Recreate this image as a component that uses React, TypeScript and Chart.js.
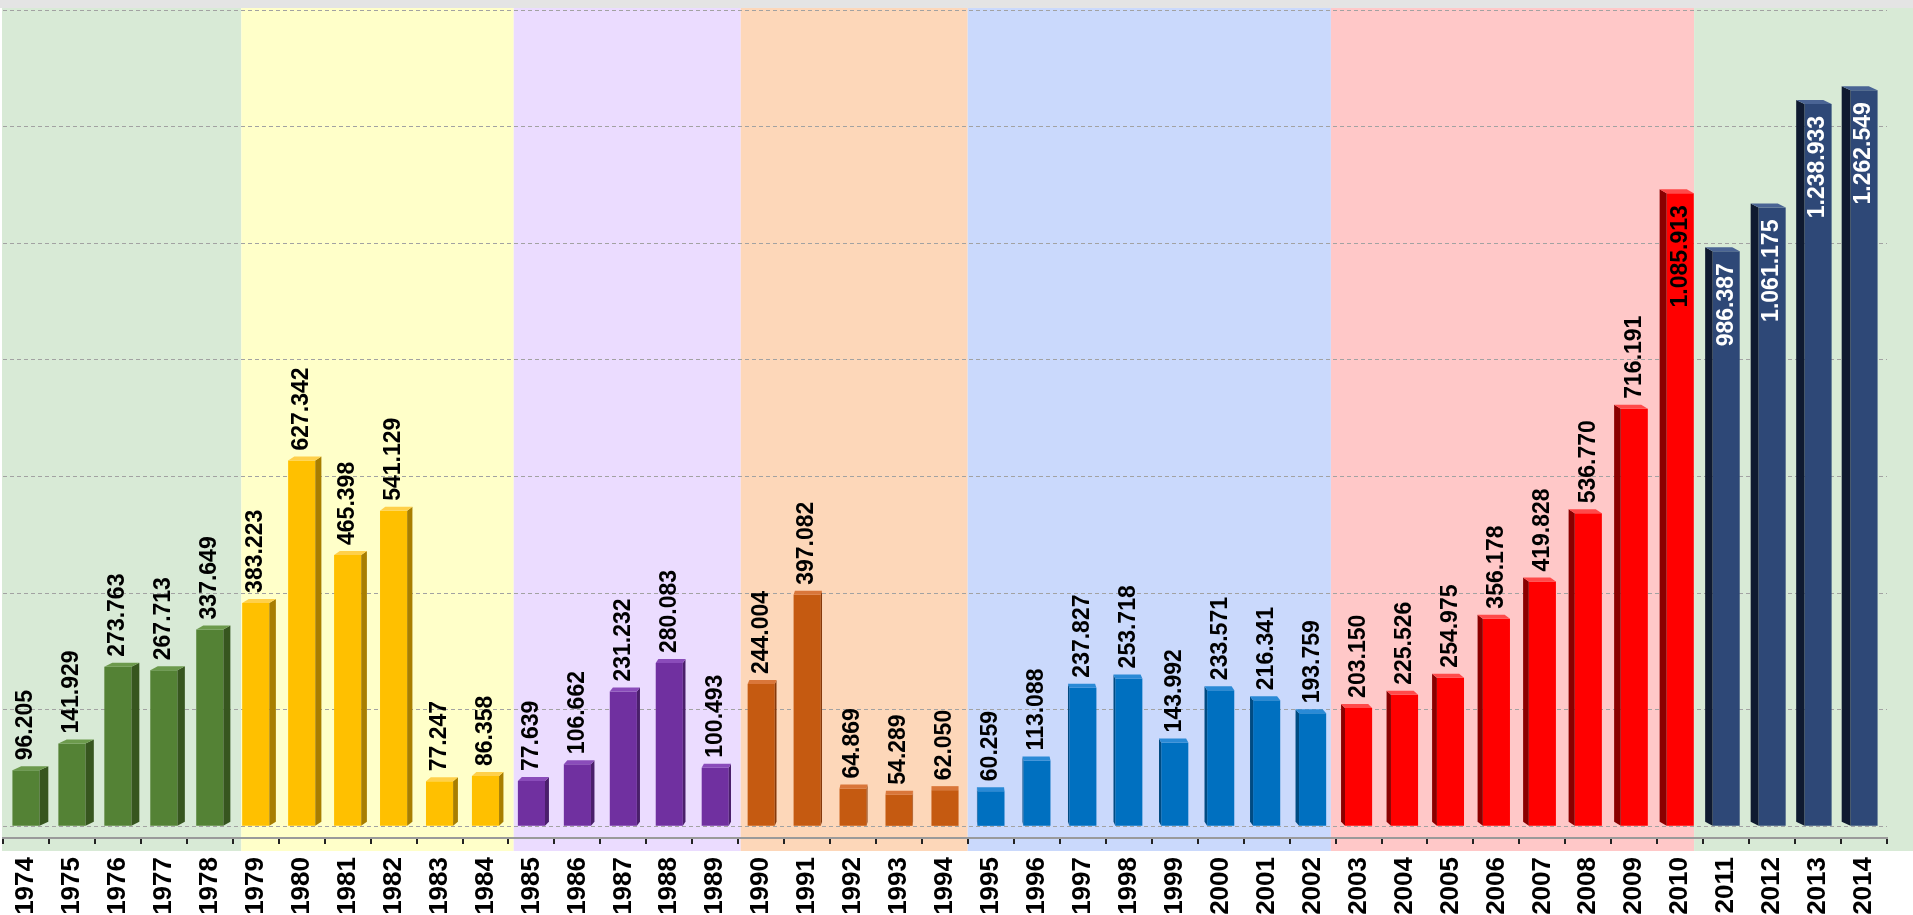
import { useEffect, useRef } from 'react';
import { Chart, registerables } from 'chart.js';

Chart.register(...registerables);

const years = [
  '1974', '1975', '1976', '1977', '1978', '1979', '1980', '1981', '1982', '1983', '1984',
  '1985', '1986', '1987', '1988', '1989', '1990', '1991', '1992', '1993', '1994',
  '1995', '1996', '1997', '1998', '1999', '2000', '2001', '2002',
  '2003', '2004', '2005', '2006', '2007', '2008', '2009', '2010',
  '2011', '2012', '2013', '2014',
];

const values = [
  96205, 141929, 273763, 267713, 337649, 383223, 627342, 465398, 541129, 77247, 86358,
  77639, 106662, 231232, 280083, 100493, 244004, 397082, 64869, 54289, 62050,
  60259, 113088, 237827, 253718, 143992, 233571, 216341, 193759,
  203150, 225526, 254975, 356178, 419828, 536770, 716191, 1085913,
  986387, 1061175, 1238933, 1262549,
];

const periodStarts = [1974, 1979, 1985, 1990, 1995, 2003, 2011];
const bandColors = ['#d8ead6', '#ffffc9', '#ebdcff', '#fdd7b9', '#cad9fc', '#ffc8c8', '#d8ead6'];
const barColors = ['#548235', '#ffc000', '#7030a0', '#c55a11', '#0070c0', '#ff0000', '#2e4877'];
const sideColors = ['#37561f', '#a87e00', '#4a1f6b', '#86390a', '#004b82', '#8a0000', '#0f1a30'];
const topColors = ['#6c9a4c', '#ffd04a', '#8a4cba', '#d9763a', '#2a8ad6', '#ff4a4a', '#4a6494'];
const insideTextColors = ['#000', '#000', '#000', '#000', '#000', '#000', '#ffffff'];

const yTicks = [0, 200000, 400000, 600000, 800000, 1000000, 1200000, 1400000];
const yMin = -20000;
const yMax = 1400000;
const insideLabelMin = 900000;
const perspective = 0.012;

const periodIndex = years.map((y) => {
  const yr = Number(y);
  let p = 0;
  periodStarts.forEach((s, i) => {
    if (yr >= s) p = i;
  });
  return p;
});

const fmt = (v: number) => String(v).replace(/\B(?=(\d{3})+(?!\d))/g, '.');

const FONT = '"Liberation Sans", Arial, sans-serif';

const bandsPlugin = {
  id: 'bands',
  beforeDraw(chart: any) {
    const { ctx, chartArea: ca } = chart;
    const xs = chart.scales.x;
    const cx = (ca.left + ca.right) / 2;
    const persp = (px: number) => px + perspective * (cx - px);
    ctx.save();
    ctx.fillStyle = '#ffffff';
    ctx.fillRect(0, 0, chart.width, chart.height);
    ctx.fillStyle = '#e4e4e4';
    ctx.fillRect(0, 0, chart.width, ca.top - 2);
    const top = ca.top - 2;
    const bottom = ca.bottom + 13;
    periodStarts.forEach((s, p) => {
      const first = periodIndex.indexOf(p);
      const last = periodIndex.lastIndexOf(p);
      const left =
        first === 0
          ? ca.left - 1
          : persp((xs.getPixelForValue(first - 1) + xs.getPixelForValue(first)) / 2);
      const right =
        last === years.length - 1
          ? chart.width
          : persp((xs.getPixelForValue(last) + xs.getPixelForValue(last + 1)) / 2);
      ctx.fillStyle = bandColors[p];
      ctx.fillRect(left, top, right - left, bottom - top);
    });
    ctx.restore();
  },
};

const barsPlugin = {
  id: 'bars3d',
  afterDatasetsDraw(chart: any) {
    const { ctx, chartArea: ca } = chart;
    const meta = chart.getDatasetMeta(0);
    const cx = (ca.left + ca.right) / 2;
    const half = (ca.right - ca.left) / 2;
    ctx.save();
    meta.data.forEach((bar: any, i: number) => {
      const { x, y, base, width } = bar.getProps(['x', 'y', 'base', 'width'], true);
      const p = periodIndex[i];
      const d = (x - cx) / half;
      const s = Math.abs(d) * 9;
      const t = 4;
      const xl = x - width / 2;
      const xr = x + width / 2;
      const dir = d < 0 ? 1 : -1;
      const edge = d < 0 ? xr : xl;
      // side face
      ctx.fillStyle = sideColors[p];
      ctx.beginPath();
      ctx.moveTo(edge, y);
      ctx.lineTo(edge + dir * s, y - t);
      ctx.lineTo(edge + dir * s, base - t);
      ctx.lineTo(edge, base);
      ctx.closePath();
      ctx.fill();
      // top face
      ctx.fillStyle = topColors[p];
      ctx.beginPath();
      ctx.moveTo(xl, y);
      ctx.lineTo(xr, y);
      ctx.lineTo(xr + dir * s, y - t);
      ctx.lineTo(xl + dir * s, y - t);
      ctx.closePath();
      ctx.fill();

      // value label
      const v = values[i];
      const inside = v >= insideLabelMin;
      ctx.font = 'bold 23px ' + FONT;
      ctx.textBaseline = 'middle';
      ctx.save();
      if (inside) {
        ctx.translate(x, y + 12);
        ctx.rotate(-Math.PI / 2);
        ctx.textAlign = 'right';
        ctx.fillStyle = insideTextColors[p];
      } else {
        ctx.translate(x, y - 10);
        ctx.rotate(-Math.PI / 2);
        ctx.textAlign = 'left';
        ctx.fillStyle = '#000000';
      }
      ctx.fillText(fmt(v), 0, 0);
      ctx.restore();
    });
    ctx.restore();
  },
};

export default function App() {
  const ref = useRef<HTMLCanvasElement | null>(null);

  useEffect(() => {
    document.body.style.margin = '0';
    if (!ref.current) return;
    Chart.defaults.font.family = FONT;
    const chart = new Chart(ref.current, {
      type: 'bar',
      data: {
        labels: years,
        datasets: [
          {
            data: values,
            backgroundColor: periodIndex.map((p) => barColors[p]),
            borderWidth: 0,
            categoryPercentage: 1,
            barPercentage: 0.59,
          },
        ],
      },
      options: {
        animation: false,
        responsive: true,
        maintainAspectRatio: false,
        layout: { padding: { top: 10, left: 3, right: 26, bottom: 0 } },
        plugins: {
          legend: { display: false },
          tooltip: { enabled: false },
          title: { display: false },
        },
        scales: {
          x: {
            grid: {
              display: true,
              drawOnChartArea: false,
              drawTicks: true,
              tickLength: 6,
              tickColor: '#222222',
              lineWidth: 2,
            },
            border: { display: true, color: '#9a9a9a', width: 2 },
            ticks: {
              autoSkip: false,
              minRotation: 90,
              maxRotation: 90,
              padding: 13,
              color: '#000000',
              font: { size: 26, weight: 'bold', family: FONT },
            },
            afterFit: (scale: any) => {
              scale.height = 77;
            },
          },
          y: {
            min: yMin,
            max: yMax,
            afterBuildTicks: (scale: any) => {
              scale.ticks = yTicks.map((v) => ({ value: v }));
            },
            ticks: { display: false },
            grid: {
              drawTicks: false,
              color: '#a2a2a2',
              lineWidth: 1,
            },
            border: { display: false, dash: [4, 3] },
          },
        },
      },
      plugins: [bandsPlugin, barsPlugin],
    });
    return () => chart.destroy();
  }, []);

  return (
    <div style={{ position: 'relative', width: '1913px', height: '915px' }}>
      <canvas ref={ref} />
    </div>
  );
}
